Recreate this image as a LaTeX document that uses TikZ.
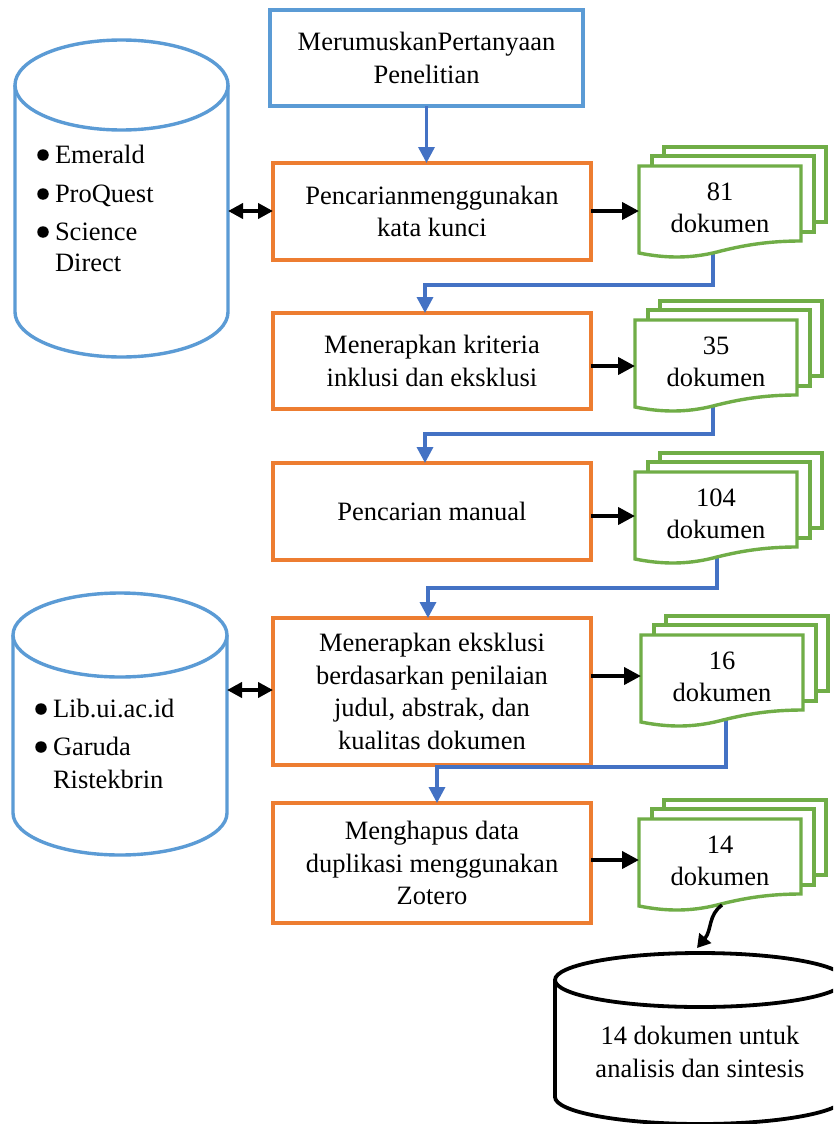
\documentclass[tikz,border=0pt]{standalone}
\usepackage{fontspec}
\setmainfont{Liberation Serif}
\usetikzlibrary{arrows.meta}
\definecolor{boxblue}{HTML}{5B9BD5}
\definecolor{lineblue}{HTML}{4472C4}
\definecolor{orng}{HTML}{ED7D31}
\definecolor{grn}{HTML}{70AD47}
\tikzset{
  every node/.style={font=\fontsize{26.5}{32.5}\selectfont, inner sep=0pt, outer sep=0pt},
  stepbox/.style={draw=orng, line width=3.4pt, fill=white, align=center, anchor=north west},
  topbox/.style={draw=boxblue, line width=3.4pt, fill=white, align=center, anchor=north west},
  cyl/.style={draw=boxblue, line width=3.4pt, fill=white},
  cylblack/.style={draw=black, line width=3.8pt, fill=white},
  sheet/.style={draw=grn, line width=3.4pt, fill=white, line join=miter},
  conn/.style={draw=lineblue, line width=3.4pt, -{Triangle[length=16pt,width=16pt]}},
  outarrow/.style={draw=black, line width=4pt, -{Triangle[length=17pt,width=17pt]}},
  dbl/.style={draw=black, line width=4pt, {Triangle[length=15pt,width=15pt]}-{Triangle[length=15pt,width=15pt]}},
  bul/.style={anchor=base west},
  dot/.style={circle, fill=black, minimum size=11.5pt},
}
% #1 name, #2 x, #3 y (front sheet top-left), #4 text
\newcommand\docstack[4]{%
  \draw[sheet] ({#2+25},{#3-19}) rectangle ({#2+187},{#3+56});
  \draw[sheet] ({#2+13},{#3-10}) rectangle ({#2+175},{#3+66});
  \draw[sheet] (#2,#3) -- ({#2+162},#3) -- ({#2+162},{#3+75})
     .. controls ({#2+130},{#3+75}) and ({#2+105},{#3+79}) .. ({#2+78},{#3+86})
     .. controls ({#2+50},{#3+93}) and ({#2+25},{#3+92}) .. ({#2},{#3+87}) -- cycle;
  \node[align=center] (#1) at ({#2+81},{#3+42}) {#4};
}
\begin{document}
\begin{tikzpicture}[x=1pt,y=-1pt]
\clip (0,0) rectangle (833,1124);
\fill[white] (0,0) rectangle (833,1124);

% left cylinders
\draw[cyl] (15,85) -- (15,312) arc[start angle=180, end angle=0, x radius=106.5, y radius=45] -- (228,85);
\draw[cyl] (121.5,85) ellipse [x radius=106.5, y radius=45];
\node[dot] (e1b) at (43,155) {};
\node[bul] (e1) at (55,163) {Emerald};
\node[dot] (e2b) at (43,194) {};
\node[bul] (e2) at (55,202) {ProQuest};
\node[dot] (e3b) at (43,232) {};
\node[bul] (e3) at (55,240) {Science};
\node[bul] (e4) at (55,271) {Direct};

\draw[cyl] (13,635) -- (13,813) arc[start angle=180, end angle=0, x radius=107, y radius=42] -- (227,635);
\draw[cyl] (120,635) ellipse [x radius=107, y radius=42];
\node[dot] (g1b) at (41,709) {};
\node[bul] (g1) at (53,717) {Lib.ui.ac.id};
\node[dot] (g2b) at (41,747) {};
\node[bul] (g2) at (53,755) {Garuda};
\node[bul] (g3) at (53,788) {Ristekbrin};

\coordinate (cylA) at (228,211);
\coordinate (cylB) at (227,690);

% boxes
\node[topbox, minimum width=313pt, minimum height=96pt] (b1) at (270,10) {MerumuskanPertanyaan\\Penelitian};
\node[stepbox, minimum width=318pt, minimum height=97pt] (b2) at (273,163) {Pencarianmenggunakan\\kata kunci};
\node[stepbox, minimum width=318pt, minimum height=96pt] (b3) at (273,313) {Menerapkan kriteria\\inklusi dan eksklusi};
\node[stepbox, minimum width=318pt, minimum height=97pt] (b4) at (273,463) {Pencarian manual};
\node[stepbox, minimum width=318pt, minimum height=147pt] (b5) at (273,618) {Menerapkan eksklusi\\berdasarkan penilaian\\judul, abstrak, dan\\kualitas dokumen};
\node[stepbox, minimum width=318pt, minimum height=120pt] (b6) at (273,803) {Menghapus data\\duplikasi menggunakan\\Zotero};

% bottom cylinder
\draw[cylblack] (555,980) -- (555,1097) arc[start angle=180, end angle=0, x radius=145, y radius=27] -- (845,980);
\draw[cylblack] (700,980) ellipse [x radius=145, y radius=27];
\node[align=center] (fin) at (700,1052) {14 dokumen untuk\\analisis dan sintesis};
\coordinate (finTop) at (697,948);

% connector start points
\coordinate (d1b) at (713,250);
\coordinate (d2b) at (713,400);
\coordinate (d3b) at (717,552);
\coordinate (d4b) at (726,714);
\coordinate (d5b) at (722,905);
\coordinate (d1in) at (639,211);
\coordinate (d2in) at (635,366);
\coordinate (d3in) at (635,516);
\coordinate (d4in) at (641,676);
\coordinate (d5in) at (639,860);

% blue connectors
\draw[conn] (b1.south) -- (b1.south |- b2.north);
\draw[conn] (d1b) |- (425,285) -- (425,313);
\draw[conn] (d2b) |- (425,434) -- (425,463);
\draw[conn] (d3b) |- (428,588) -- (428,618);
\draw[conn] (d4b) |- (437,767) -- (437,803);

% documents
\docstack{d1}{639}{166}{81\\dokumen}
\docstack{d2}{635}{320}{35\\dokumen}
\docstack{d3}{635}{472}{104\\dokumen}
\docstack{d4}{641}{635}{16\\dokumen}
\docstack{d5}{639}{819}{14\\dokumen}

% black arrows
\draw[outarrow] (b2.east |- d1in) -- (d1in);
\draw[outarrow] (b3.east |- d2in) -- (d2in);
\draw[outarrow] (b4.east |- d3in) -- (d3in);
\draw[outarrow] (b5.east |- d4in) -- (d4in);
\draw[outarrow] (b6.east |- d5in) -- (d5in);
\draw[dbl] (cylA) -- (cylA -| b2.west);
\draw[dbl] (cylB) -- (cylB -| b5.west);
\draw[draw=black, line width=3.5pt, -{Triangle[length=13pt,width=15pt]}] (d5b) .. controls (708,915) and (712,930) .. (finTop);
\end{tikzpicture}
\end{document}
